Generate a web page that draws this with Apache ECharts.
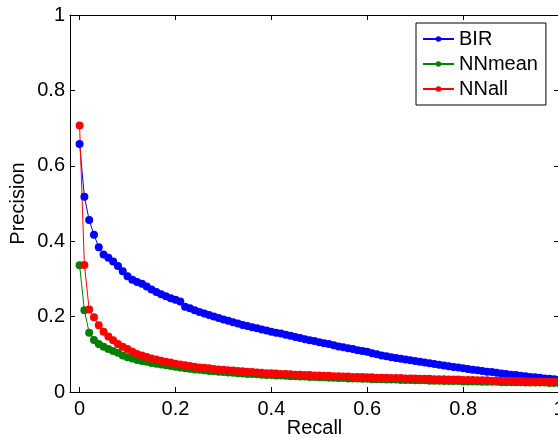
<!DOCTYPE html>
<html>
<head>
<meta charset="utf-8">
<script src="https://cdn.jsdelivr.net/npm/echarts@6/dist/echarts.min.js"></script>
<style>
html,body{margin:0;padding:0;background:#fff;}
#chart{width:558px;height:438px;}
</style>
</head>
<body>
<div id="chart"></div>
<script>
const recall = [0.00,0.01,0.02,0.03,0.04,0.05,0.06,0.07,0.08,0.09,
0.10,0.11,0.12,0.13,0.14,0.15,0.16,0.17,0.18,0.19,
0.20,0.21,0.22,0.23,0.24,0.25,0.26,0.27,0.28,0.29,
0.30,0.31,0.32,0.33,0.34,0.35,0.36,0.37,0.38,0.39,
0.40,0.41,0.42,0.43,0.44,0.45,0.46,0.47,0.48,0.49,
0.50,0.51,0.52,0.53,0.54,0.55,0.56,0.57,0.58,0.59,
0.60,0.61,0.62,0.63,0.64,0.65,0.66,0.67,0.68,0.69,
0.70,0.71,0.72,0.73,0.74,0.75,0.76,0.77,0.78,0.79,
0.80,0.81,0.82,0.83,0.84,0.85,0.86,0.87,0.88,0.89,
0.90,0.91,0.92,0.93,0.94,0.95,0.96,0.97,0.98,0.99,1.00];

const bir = [0.658,0.518,0.456,0.417,0.384,0.365,0.356,0.346,0.334,0.320,
0.307,0.298,0.292,0.287,0.280,0.272,0.265,0.259,0.254,0.249,
0.245,0.240,0.226,0.222,0.217,0.212,0.208,0.204,0.200,0.196,
0.192,0.189,0.185,0.182,0.178,0.175,0.172,0.169,0.166,0.163,
0.160,0.157,0.155,0.152,0.149,0.146,0.143,0.140,0.137,0.135,
0.132,0.129,0.127,0.124,0.121,0.119,0.116,0.114,0.111,0.109,
0.107,0.103,0.100,0.097,0.095,0.092,0.090,0.088,0.086,0.084,
0.082,0.080,0.078,0.076,0.074,0.072,0.070,0.068,0.066,0.065,
0.063,0.061,0.059,0.058,0.056,0.054,0.053,0.051,0.049,0.048,
0.046,0.045,0.043,0.042,0.040,0.039,0.038,0.036,0.035,0.034,0.032];

const nnmean = [0.336,0.217,0.157,0.138,0.127,0.120,0.114,0.109,0.104,0.097,
0.092,0.089,0.085,0.082,0.080,0.077,0.075,0.073,0.071,0.069,
0.067,0.065,0.063,0.062,0.060,0.059,0.058,0.056,0.055,0.054,
0.053,0.052,0.051,0.050,0.049,0.048,0.048,0.047,0.046,0.045,
0.045,0.044,0.044,0.043,0.042,0.042,0.041,0.041,0.040,0.040,
0.039,0.039,0.038,0.038,0.037,0.037,0.036,0.036,0.036,0.035,
0.035,0.034,0.034,0.034,0.033,0.033,0.033,0.032,0.032,0.032,
0.031,0.031,0.031,0.030,0.030,0.030,0.029,0.029,0.029,0.029,
0.028,0.028,0.028,0.028,0.027,0.027,0.027,0.027,0.026,0.026,
0.026,0.026,0.026,0.025,0.025,0.025,0.025,0.025,0.024,0.024,0.024];

const nnall = [0.707,0.337,0.219,0.198,0.177,0.160,0.147,0.137,0.127,0.120,
0.114,0.107,0.101,0.097,0.093,0.089,0.086,0.083,0.080,0.078,
0.075,0.073,0.071,0.069,0.067,0.065,0.064,0.063,0.061,0.060,
0.059,0.058,0.057,0.056,0.055,0.054,0.053,0.052,0.051,0.050,
0.050,0.049,0.048,0.048,0.047,0.046,0.046,0.045,0.045,0.044,
0.044,0.043,0.043,0.042,0.042,0.041,0.041,0.040,0.040,0.040,
0.039,0.039,0.038,0.038,0.038,0.037,0.037,0.037,0.036,0.036,
0.036,0.035,0.035,0.035,0.034,0.034,0.034,0.033,0.033,0.033,
0.032,0.032,0.032,0.031,0.031,0.031,0.030,0.030,0.030,0.030,
0.029,0.029,0.029,0.028,0.028,0.028,0.028,0.027,0.027,0.027,0.026];

const xTicks = [0, 0.2, 0.4, 0.6, 0.8, 1];
const yTicks = [0, 0.2, 0.4, 0.6, 0.8, 1];

const FONT = '"Liberation Sans", Arial, Helvetica, sans-serif';
const FS = 20;
const fmt = v => (v === 0 ? '0' : (v === 1 ? '1' : String(+v.toFixed(1))));

function pairs(xs, ys) { return xs.map((x, i) => [x, ys[i]]); }

function mkSeries(name, ys, color) {
  return {
    name: name, type: 'line', data: pairs(recall, ys),
    symbol: 'circle', symbolSize: 8, showSymbol: true,
    lineStyle: { color: color, width: 1 },
    itemStyle: { color: color },
    emphasis: { disabled: true },
    animation: false
  };
}

const axisCommon = {
  axisLine: { show: true, onZero: false, lineStyle: { color: '#000', width: 1 } },
  splitLine: { show: false }
};

const chart = echarts.init(document.getElementById('chart'), null, { renderer: 'canvas' });
chart.setOption({
  backgroundColor: '#fff',
  animation: false,
  grid: { left: 70, top: 15, width: 489, height: 377, containLabel: false, outerBoundsMode: 'none' },
  legend: {
    left: 416, top: 23, orient: 'vertical',
    padding: [4, 8, 4, 6],
    itemWidth: 31, itemHeight: 7, itemGap: 1,
    borderColor: '#000', borderWidth: 1, backgroundColor: '#fff',
    textStyle: { fontFamily: FONT, fontSize: FS, color: '#000', lineHeight: 24 },
    data: ['BIR', 'NNmean', 'NNall']
  },
  xAxis: [
    Object.assign({}, axisCommon, {
      type: 'value', min: -0.02, max: 1, position: 'bottom',
      name: 'Recall', nameLocation: 'middle', nameGap: 26, nameMoveOverlap: false,
      nameTextStyle: { fontFamily: FONT, fontSize: FS, color: '#000' },
      axisTick: { show: true, inside: true, length: 5, customValues: xTicks, lineStyle: { color: '#000' } },
      axisLabel: { show: true, customValues: xTicks, formatter: fmt, margin: 7, fontFamily: FONT, fontSize: FS, color: '#000' }
    }),
    Object.assign({}, axisCommon, {
      type: 'value', min: -0.02, max: 1, position: 'top',
      axisTick: { show: true, inside: true, length: 5, customValues: xTicks, lineStyle: { color: '#000' } },
      axisLabel: { show: false }
    })
  ],
  yAxis: [
    Object.assign({}, axisCommon, {
      type: 'value', min: 0, max: 1, interval: 0.2, position: 'left',
      name: 'Precision', nameLocation: 'middle', nameGap: 42, nameMoveOverlap: false,
      nameTextStyle: { fontFamily: FONT, fontSize: FS, color: '#000' },
      axisTick: { show: true, inside: true, length: 5, lineStyle: { color: '#000' } },
      axisLabel: { show: true, formatter: fmt, margin: 5, fontFamily: FONT, fontSize: FS, color: '#000' }
    }),
    Object.assign({}, axisCommon, {
      type: 'value', min: 0, max: 1, interval: 0.2, position: 'right',
      axisTick: { show: true, inside: true, length: 5, lineStyle: { color: '#000' } },
      axisLabel: { show: false }
    })
  ],
  series: [
    mkSeries('BIR', bir, '#0000ff'),
    mkSeries('NNmean', nnmean, '#008000'),
    mkSeries('NNall', nnall, '#ff0000')
  ]
});
</script>
</body>
</html>
